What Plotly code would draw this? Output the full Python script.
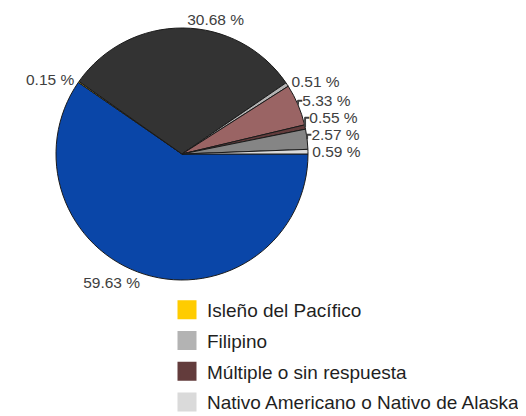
import plotly.graph_objects as go

# Slice / legend order (clockwise from 3 o'clock)
labels = [
    "Blanco",
    "Isleño del Pacífico",
    "Hispano o Latino",
    "Filipino",
    "Afroamericano",
    "Múltiple o sin respuesta",
    "Asiático",
    "Nativo Americano o Nativo de Alaska",
]
percentages = [59.63, 0.15, 30.68, 0.51, 5.33, 0.55, 2.57, 0.59]
colors = ["#0a46a8", "#ffcc00", "#333333", "#b3b3b3", "#9a6464", "#633c3c", "#858585", "#dadada"]
# legend entries visible in the picture (the other column lies beyond the left edge)
legend_visible = [False, True, False, True, False, True, False, True]

FONT = "Liberation Sans, Arial, sans-serif"
W, H = 526, 416

fig = go.Figure()
fig.add_trace(go.Pie(
    labels=labels,
    values=percentages,
    sort=False,
    direction="clockwise",
    rotation=90,
    marker=dict(colors=colors, line=dict(color="#1a1a1a", width=1)),
    texttemplate="%{value:.2f} %",
    textposition="outside",
    outsidetextfont=dict(family=FONT, size=15.5, color="#404040"),
    showlegend=False,
    hoverinfo="label+value",
    domain=dict(x=[48 / W, 300 / W], y=[1 - 272 / H, 1 - 20 / H]),
))

for lab, col, vis in zip(labels, colors, legend_visible):
    if not vis:
        continue
    fig.add_trace(go.Scatter(
        x=[None], y=[None], mode="markers", name=lab,
        marker=dict(symbol="square", size=16, color=col, line=dict(color=col, width=3)),
        legendgroup=lab,
        hoverinfo="skip",
    ))

fig.update_layout(
    width=W, height=H,
    margin=dict(l=0, r=0, t=0, b=0, autoexpand=False),
    paper_bgcolor="white", plot_bgcolor="white",
    xaxis=dict(visible=False), yaxis=dict(visible=False),
    legend=dict(
        x=159 / W, y=1 - 283 / H,
        font=dict(family=FONT, size=19, color="#1f1f1f"),
        bgcolor="rgba(0,0,0,0)",
        orientation="v",
        xanchor="left", yanchor="top",
        tracegroupgap=3,
        itemclick=False, itemdoubleclick=False,
    ),
)
fig.write_html("out.html")
